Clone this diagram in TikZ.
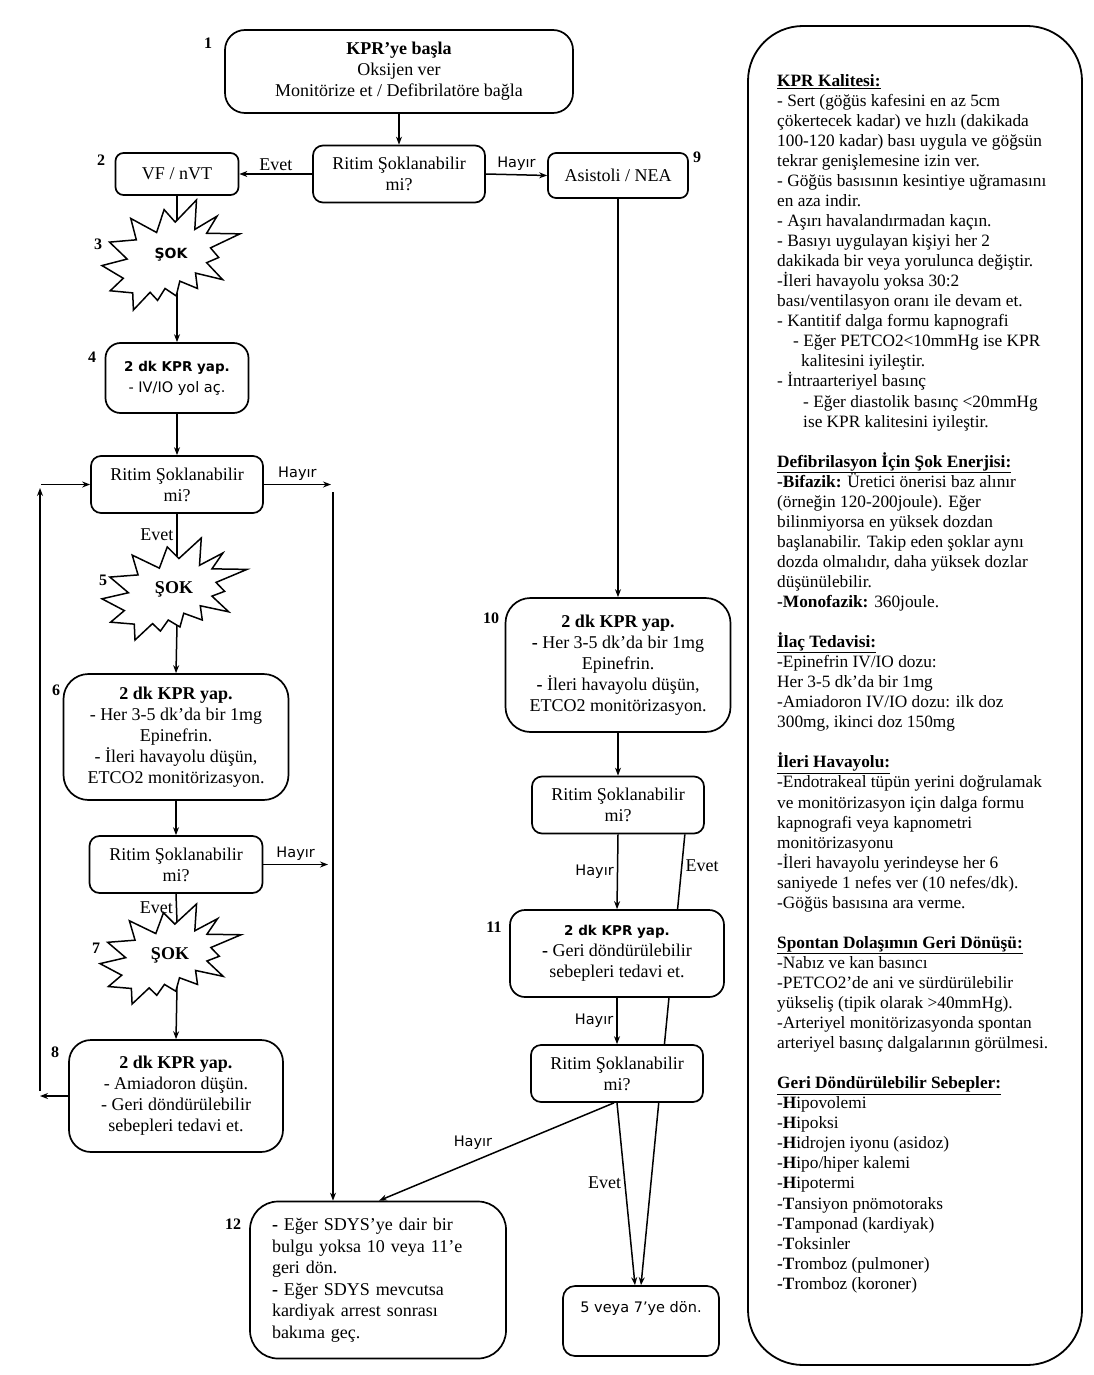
\documentclass[tikz,border=0pt]{standalone}
\usepackage{fontspec}
\setmainfont{Liberation Serif}
\newfontfamily\sansf{DejaVu Sans}
\usetikzlibrary{arrows.meta}
\usetikzlibrary{backgrounds}
\tikzset{
    boxn/.style = {rectangle, rounded corners=14pt, line width=1.7pt, draw=black, fill=white, align=center, inner sep=2pt, font=\fontsize{18}{21}\selectfont},
    asknode/.style = {boxn, rounded corners=10pt, minimum width=172, minimum height=57},
    shocknode/.style = {inner sep=0pt, font=\bfseries\fontsize{18}{18}\selectfont},
    shocknodes/.style = {inner sep=0pt, font=\sansf\bfseries\fontsize{14}{14}\selectfont},
    numl/.style = {inner sep=0pt, font=\bfseries\fontsize{16}{16}\selectfont},
    evet/.style = {inner sep=3pt, font=\fontsize{18}{18}\selectfont},
    hayir/.style = {inner sep=3pt, font=\sansf\fontsize{14.5}{14.5}\selectfont},
    edgen/.style = {-, line width=1.5pt, black},
    edgea/.style = {-{Stealth[length=8pt,width=6pt]}, line width=1.5pt, black},
    panel/.style = {rectangle, rounded corners=55pt, line width=1.8pt, draw=black},
    paneltext/.style = {inner sep=0pt, align=left, anchor=north west, font=\fontsize{17.3}{20.05}\selectfont},
    explosion/.pic = {
      \draw[edgen, fill=white] (0.5306,0.2010) -- (0.6847,0) -- (0.6725,0.2675) -- (0.8337,0.1469)
        -- (0.7583,0.3024) -- (1,0.3076) -- (0.7863,0.4353) -- (0.8458,0.5227) -- (0.7583,0.5699)
        -- (0.8739,0.7237) -- (0.6778,0.6644) -- (0.6918,0.8042) -- (0.5639,0.7377) -- (0.5376,0.8723)
        -- (0.4570,0.8042) -- (0.4028,0.9126) -- (0.3485,0.8391) -- (0.2276,1) -- (0.2225,0.8444)
        -- (0.0595,0.8252) -- (0.1542,0.7116) -- (0,0.5962) -- (0.1822,0.5367) -- (0.0543,0.3829)
        -- (0.2487,0.3619) -- (0.2084,0.1678) -- (0.3958,0.2955) -- (0.4501,0.0874) -- cycle;
    }
}

\begin{document}
\begin{tikzpicture}[x=1pt, y=-1pt]
  \useasboundingbox (0,0) rectangle (1094,1375);

  % start and first decision
  \node[boxn, rounded corners=20pt, minimum width=348, minimum height=83] (start) at (399,71.5)
    {\textbf{KPR’ye başla}\\Oksijen ver\\Monitörize et / Defibrilatöre bağla};
  \node[asknode] (ask0) at (399,174) {Ritim Şoklanabilir\\mi?};
  \node[boxn, rounded corners=8pt, minimum width=123, minimum height=42] (vf) at (177,174) {VF / nVT};
  \node[boxn, rounded corners=8pt, minimum width=140, minimum height=45] (asis) at (618,175.5) {Asistoli / NEA};

  % left column
  \pic[xscale=138, yscale=110] at (102,200) {explosion};
  \node[shocknodes] (sok3) at (171,255) {ŞOK};
  \coordinate (sok3in) at (177,220);
  \coordinate (sok3out) at (177,293);
  \node[boxn, rounded corners=15pt, minimum width=143, minimum height=70] (kpr4) at (177,378)
    {{\sansf\bfseries\fontsize{13.5}{21}\selectfont 2 dk KPR yap.}\\{\sansf\fontsize{14.5}{21}\selectfont - IV/IO yol aç.}};
  \node[asknode] (ask1) at (177,484.5) {Ritim Şoklanabilir\\mi?};
  \pic[xscale=145, yscale=102] at (102,538) {explosion};
  \node[shocknode] (sok5) at (174,589) {ŞOK};
  \coordinate (sok5in) at (177,556);
  \coordinate (sok5out) at (177,625);
  \node[boxn, rounded corners=25pt, minimum width=225, minimum height=126] (kpr6) at (176,737)
    {\textbf{2 dk KPR yap.}\\- Her 3-5 dk’da bir 1mg\\Epinefrin.\\- İleri havayolu düşün,\\ETCO2 monitörizasyon.};
  \node[asknode, minimum width=173] (ask2) at (176,864.5) {Ritim Şoklanabilir\\mi?};
  \pic[xscale=141, yscale=100] at (100,904) {explosion};
  \node[shocknode] (sok7) at (170,955) {ŞOK};
  \coordinate (sok7in) at (177,922);
  \coordinate (sok7out) at (177,987);
  \node[boxn, rounded corners=22pt, minimum width=214, minimum height=112] (kpr8) at (176,1096)
    {\textbf{2 dk KPR yap.}\\- Amiadoron düşün.\\- Geri döndürülebilir\\sebepleri tedavi et.};

  % middle column
  \node[boxn, rounded corners=25pt, minimum width=225, minimum height=134] (kpr10) at (618,665)
    {\textbf{2 dk KPR yap.}\\\textbf{-} Her 3-5 dk’da bir 1mg\\Epinefrin.\\\textbf{-} İleri havayolu düşün,\\ETCO2 monitörizasyon.};
  \node[asknode] (ask3) at (618,805) {Ritim Şoklanabilir\\mi?};
  \node[boxn, rounded corners=15pt, minimum width=214, minimum height=87] (kpr11) at (617,953.5)
    {{\sansf\bfseries\fontsize{13.5}{21}\selectfont 2 dk KPR yap.}\\\textbf{-} Geri döndürülebilir\\sebepleri tedavi et.};
  \node[asknode] (ask4) at (617,1073.5) {Ritim Şoklanabilir\\mi?};
  \node[boxn, rounded corners=28pt, minimum width=256, minimum height=157, text width=212, align=left, font=\fontsize{18}{21.5}\selectfont] (sdys) at (378,1280)
    {\textbf{-} Eğer SDYS’ye dair bir\\bulgu yoksa 10 veya 11’e\\geri dön.\\\textbf{-} Eğer SDYS mevcutsa\\kardiyak arrest sonrası\\bakıma geç.};
  \node[boxn, rounded corners=12pt, minimum width=156, minimum height=70, font=\sansf\fontsize{14.5}{21}\selectfont] (back) at (641,1321)
    {5 veya 7’ye dön.\\\strut};

  % numbers
  \node[numl] (n1) at (208,43) {1};
  \node[numl] (n2) at (101,160) {2};
  \node[numl] (n3) at (98,244) {3};
  \node[numl] (n4) at (92,357) {4};
  \node[numl] (n5) at (103,580) {5};
  \node[numl] (n6) at (56,690) {6};
  \node[numl] (n7) at (96,948) {7};
  \node[numl] (n8) at (55,1052) {8};
  \node[numl] (n9) at (697,157) {9};
  \node[numl] (n10) at (491,618) {10};
  \node[numl] (n11) at (494,927) {11};
  \node[numl] (n12) at (233,1224) {12};

  % connectors
  \draw[edgea] (start) -- (ask0);
  \draw[edgea] (ask0.west) -- node[above, evet] {Evet} (vf.east);
  \draw[edgea] (ask0.east) -- node[above, hayir] {Hayır} (asis.west);
  \draw[edgea] (asis.south) -- (kpr10.north);
  \draw[edgen] (vf.south) -- (sok3in);
  \draw[edgea] (sok3out) -- (kpr4.north);
  \draw[edgea] (kpr4.south) -- (ask1.north);
  \coordinate (hy1) at (331,484.5);
  \coordinate (hy1v) at (333,492);
  \draw[edgea] (ask1.east) -- node[above, hayir] {Hayır} (hy1);
  \draw[edgea] (hy1v) -- (hy1v |- sdys.north);
  \draw[edgen] (ask1.south) -- node[left, evet] {Evet} (sok5in);
  \draw[edgea] (sok5out) -- (kpr6.north);
  \draw[edgea] (kpr6.south) -- (ask2.north);
  \coordinate (hy2) at (328,864.5);
  \draw[edgea] (ask2.east) -- node[above, hayir] {Hayır} (hy2);
  \draw[edgen] (ask2.south) -- node[left, evet] {Evet} (sok7in);
  \draw[edgea] (sok7out) -- (kpr8.north);
  % loop back
  \coordinate (lpb) at (40,1096);
  \coordinate (lpb2) at (40,1091);
  \coordinate (lpt) at (40,488);
  \coordinate (lpt2) at (41,484.5);
  \draw[edgea] (kpr8.west) -- (lpb);
  \draw[edgea] (lpb2) -- (lpt);
  \draw[edgea] (lpt2) -- (ask1.west);
  % middle
  \draw[edgea] (kpr10.south) -- (ask3.north);
  \draw[edgea] (ask3.south) -- node[left, hayir] {Hayır} (kpr11.north);
  \draw[edgea] (kpr11.south) -- node[left, hayir] {Hayır} (ask4.north);
  \draw[edgea] ([xshift=-3pt]ask4.south) -- node[pos=0.6, above=8pt, hayir] {Hayır} ([xshift=1pt]sdys.north);
  \draw[edgea] (ask4.south) -- node[pos=0.44, left, evet] {Evet} ([xshift=-6pt]back.north);
  \begin{scope}[on background layer]
    \draw[edgea] ([xshift=-20pt]ask3.south east) -- node[pos=0.07, right, evet] {Evet} (back.north);
  \end{scope}

  % side panel
  \node[panel, minimum width=334, minimum height=1339] (frame) at (915,695.5) {};
  \node[paneltext] (info) at (777,74) {%
    \textbf{\underline{KPR Kalitesi:}}\\
    - Sert (göğüs kafesini en az 5cm\\
    çökertecek kadar) ve hızlı (dakikada\\
    100-120 kadar) bası uygula ve göğsün\\
    tekrar genişlemesine izin ver.\\
    - Göğüs basısının kesintiye uğramasını\\
    en aza indir.\\
    - Aşırı havalandırmadan kaçın.\\
    - Basıyı uygulayan kişiyi her 2\\
    dakikada bir veya yorulunca değiştir.\\
    -İleri havayolu yoksa 30:2\\
    bası/ventilasyon oranı ile devam et.\\
    - Kantitif dalga formu kapnografi\\
    \hspace*{16pt}- Eğer PETCO2<10mmHg ise KPR\\
    \hspace*{24pt}kalitesini iyileştir.\\
    - İntraarteriyel basınç\\
    \hspace*{26pt}- Eğer diastolik basınç <20mmHg\\
    \hspace*{26pt}ise KPR kalitesini iyileştir.\\[20.05pt]
    \textbf{\underline{Defibrilasyon İçin Şok Enerjisi:}}\\
    \textbf{-Bifazik:} Üretici önerisi baz alınır\\
    (örneğin 120-200joule). Eğer\\
    bilinmiyorsa en yüksek dozdan\\
    başlanabilir. Takip eden şoklar aynı\\
    dozda olmalıdır, daha yüksek dozlar\\
    düşünülebilir.\\
    \textbf{-Monofazik:} 360joule.\\[20.05pt]
    \textbf{\underline{İlaç Tedavisi:}}\\
    -Epinefrin IV/IO dozu:\\
    Her 3-5 dk’da bir 1mg\\
    -Amiadoron IV/IO dozu: ilk doz\\
    300mg, ikinci doz 150mg\\[20.05pt]
    \textbf{\underline{İleri Havayolu:}}\\
    -Endotrakeal tüpün yerini doğrulamak\\
    ve monitörizasyon için dalga formu\\
    kapnografi veya kapnometri\\
    monitörizasyonu\\
    -İleri havayolu yerindeyse her 6\\
    saniyede 1 nefes ver (10 nefes/dk).\\
    -Göğüs basısına ara verme.\\[20.05pt]
    \textbf{\underline{Spontan Dolaşımın Geri Dönüşü:}}\\
    -Nabız ve kan basıncı\\
    -PETCO2’de ani ve sürdürülebilir\\
    yükseliş (tipik olarak >40mmHg).\\
    -Arteriyel monitörizasyonda spontan\\
    arteriyel basınç dalgalarının görülmesi.\\[20.05pt]
    \textbf{\underline{Geri Döndürülebilir Sebepler:}}\\
    -\textbf{H}ipovolemi\\
    -\textbf{H}ipoksi\\
    -\textbf{H}idrojen iyonu (asidoz)\\
    -\textbf{H}ipo/hiper kalemi\\
    -\textbf{H}ipotermi\\
    -\textbf{T}ansiyon pnömotoraks\\
    -\textbf{T}amponad (kardiyak)\\
    -\textbf{T}oksinler\\
    \textbf{-T}romboz (pulmoner)\\
    \textbf{-T}romboz (koroner)};
\end{tikzpicture}
\end{document}
